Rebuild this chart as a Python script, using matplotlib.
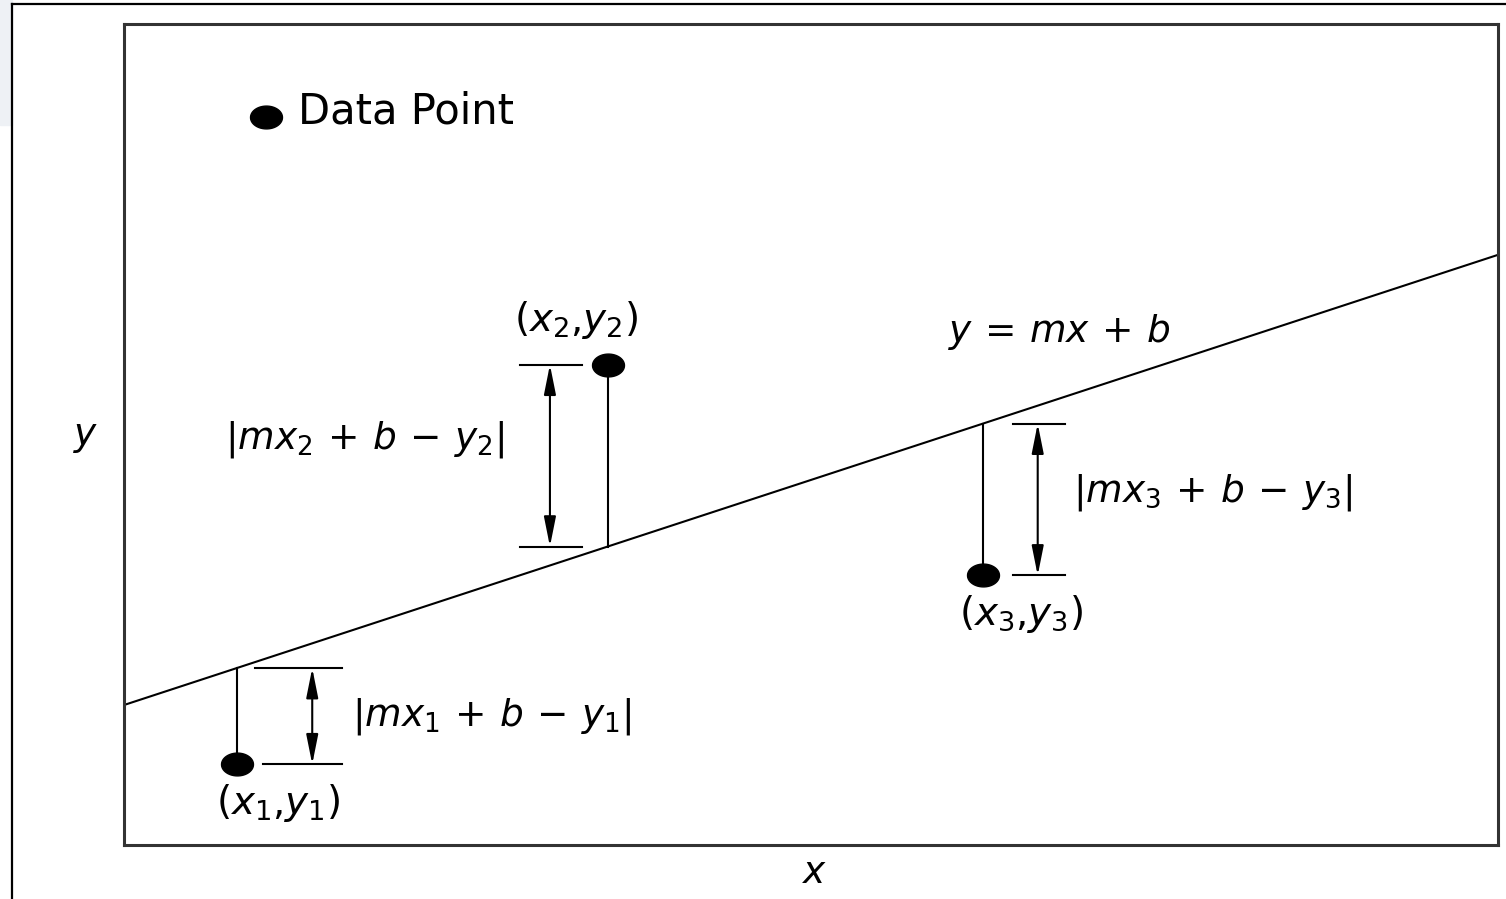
import numpy as np
import matplotlib.pyplot as plt
from matplotlib.path import Path
from matplotlib.patches import Rectangle
from matplotlib.lines import Line2D

plt.rcParams['font.family'] = 'DejaVu Sans'
plt.rcParams['mathtext.fontset'] = 'dejavusans'

# fitted line y = m*x + b
m = 0.329
b = 1.023
x_range = [0.0, 10.0]

# data points
pts_x = [0.82, 3.52, 6.25]
pts_y = [0.59, 3.51, 1.97]
pt_labels = [r'$(x_1{,}y_1)$', r'$(x_2{,}y_2)$', r'$(x_3{,}y_3)$']
res_labels = [r'$|mx_1\,+\,b\,-\,y_1|$', r'$|mx_2\,+\,b\,-\,y_2|$', r'$|mx_3\,+\,b\,-\,y_3|$']

# layout offsets (style, per point)
arrow_dx = [0.55, -0.42, 0.40]
tick_span = [(0.13, 0.77), (-0.64, -0.19), (0.22, 0.60)]
lab_off = [(0.30, -0.28), (-0.23, 0.33), (0.28, -0.28)]
res_pos = [(0.84, 0.0, 'left'), (-0.75, 0.12, 'right'), (0.66, 0.05, 'left')]

fig = plt.figure(figsize=(15.06, 8.99), dpi=100)
W, H = 1506, 899

# faint background strip and outer frame
fig.patches.append(Rectangle((0, 1 - 125 / H), 12 / W, 125 / H, transform=fig.transFigure,
                             color='#eef1f5', zorder=0))
fig.add_artist(Line2D([12 / W, 1], [1 - 4 / H, 1 - 4 / H], transform=fig.transFigure,
                      color='black', lw=1.6))
fig.add_artist(Line2D([12 / W, 12 / W], [0, 1 - 4 / H], transform=fig.transFigure,
                      color='black', lw=1.6))

ax = fig.add_axes([124 / W, 54 / H, 1374 / W, 821 / H])
ax.set_xlim(0, 10)
ax.set_ylim(0, 6.0)
ax.set_xticks([])
ax.set_yticks([])
for s in ax.spines.values():
    s.set_linewidth(2.2)
    s.set_color('#333333')

# ellipse marker (picture is stretched horizontally)
t = np.linspace(0, 2 * np.pi, 60)
dot = Path(np.column_stack([1.4 * np.cos(t), np.sin(t)]), closed=True)

xs = np.array(x_range)
ax.plot(xs, m * xs + b, color='black', lw=1.5)

for i in range(3):
    px, py = pts_x[i], pts_y[i]
    ly = m * px + b
    ax.plot([px, px], [py, ly], color='black', lw=1.5)
    ax.plot(px, py, marker=dot, markersize=23, color='black', zorder=5)
    t0, t1 = tick_span[i]
    ax.plot([px + t0, px + t1], [ly, ly], color='black', lw=1.5)
    ax.plot([px + t0 + (0.06 if i == 0 else 0), px + t1], [py, py], color='black', lw=1.5)
    ax.annotate('', xy=(px + arrow_dx[i], ly), xytext=(px + arrow_dx[i], py),
                arrowprops=dict(arrowstyle='<|-|>,head_length=0.9,head_width=0.18',
                                color='black', lw=1.5, shrinkA=0, shrinkB=0,
                                mutation_scale=20))
    ox, oy = lab_off[i]
    ax.text(px + ox, py + oy, pt_labels[i], fontsize=28, ha='center', va='center')
    rx, ry, rha = res_pos[i]
    ax.text(px + rx, (py + ly) / 2 + ry, res_labels[i], fontsize=27, ha=rha, va='center')

ax.text(6.0, 3.75, r'$y\,=\,mx\,+\,b$', fontsize=27, ha='left', va='center')

# legend-like entry
ax.plot(1.03, 5.32, marker=dot, markersize=23, color='black')
ax.text(1.27, 5.36, 'Data Point', fontsize=30, ha='left', va='center')

ax.set_xlabel(r'$x$', fontsize=27)
ax.set_ylabel(r'$y$', fontsize=27, rotation=0)
ax.xaxis.set_label_coords(0.503, -0.034)
ax.yaxis.set_label_coords(-0.028, 0.497)
ax.xaxis.label.set_va('center')
ax.yaxis.label.set_va('center')

fig.savefig('out.png', dpi=100)
